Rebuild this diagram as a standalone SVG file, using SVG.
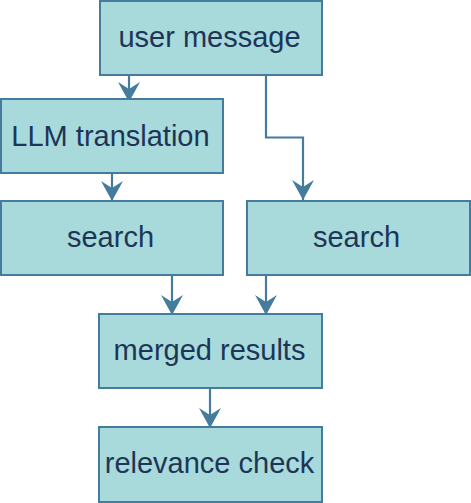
<svg xmlns="http://www.w3.org/2000/svg" width="471" height="503" viewBox="0 0 471 503">
<defs>
<style>
.box{fill:#a8dadc;stroke:#457b9d;stroke-width:2}
.lbl{font-family:"Liberation Sans",Arial,sans-serif;font-size:29px;fill:#1d3557;text-anchor:middle}
.edge{fill:none;stroke:#457b9d;stroke-width:2.2}
</style>
<marker id="arr" markerUnits="userSpaceOnUse" markerWidth="24" markerHeight="24" viewBox="-22 -12 24 24" refX="0" refY="0" orient="auto" overflow="visible">
<path d="M0,0 L-20,-11 L-13,0 L-20,11 Z" fill="#457b9d"/>
</marker>
</defs>
<rect width="471" height="503" fill="#ffffff"/>
<g id="connectors">
<path class="edge" d="M129,75 V102" marker-end="url(#arr)"/>
<path class="edge" d="M266,75 V137.5 H303 V200" marker-end="url(#arr)"/>
<path class="edge" d="M112,173 V201" marker-end="url(#arr)"/>
<path class="edge" d="M172,275 V315" marker-end="url(#arr)"/>
<path class="edge" d="M266,275 V315" marker-end="url(#arr)"/>
<path class="edge" d="M210,388 V428" marker-end="url(#arr)"/>
</g>
<g id="user-message">
<rect class="box" x="100" y="1" width="222" height="74"/>
<text class="lbl" x="209.5" y="47">user message</text>
</g>
<g id="llm-translation">
<rect class="box" x="1" y="99" width="222" height="74"/>
<text class="lbl" x="110.5" y="146">LLM translation</text>
</g>
<g id="search-left">
<rect class="box" x="1" y="201" width="222" height="74"/>
<text class="lbl" x="110.5" y="247">search</text>
</g>
<g id="search-right">
<rect class="box" x="247" y="201" width="223" height="74"/>
<text class="lbl" x="356.5" y="247">search</text>
</g>
<g id="merged-results">
<rect class="box" x="99" y="314" width="223" height="74"/>
<text class="lbl" x="209.5" y="360">merged results</text>
</g>
<g id="relevance-check">
<rect class="box" x="99" y="427" width="223" height="75"/>
<text class="lbl" x="209.5" y="473">relevance check</text>
</g>
</svg>
